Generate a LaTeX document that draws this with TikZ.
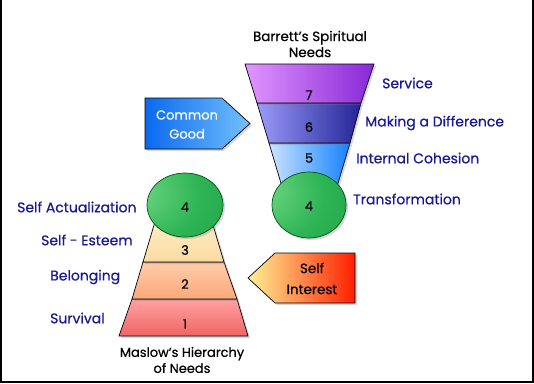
\documentclass[tikz,border=0pt]{standalone}
\usepackage{fontspec}
\setmainfont{Poppins}
\newfontfamily\medfont{Poppins}[FakeBold=0.5]
\usetikzlibrary{shadows}
\definecolor{lbl}{RGB}{25,25,150}
\definecolor{b7l}{RGB}{225,150,255}
\definecolor{b7r}{RGB}{135,40,215}
\definecolor{b6l}{RGB}{155,155,250}
\definecolor{b6r}{RGB}{35,35,150}
\definecolor{b5l}{RGB}{205,228,255}
\definecolor{b5r}{RGB}{20,130,255}
\definecolor{m3t}{RGB}{255,242,205}
\definecolor{m3b}{RGB}{250,218,160}
\definecolor{m2t}{RGB}{255,205,172}
\definecolor{m2b}{RGB}{250,168,120}
\definecolor{m1t}{RGB}{255,162,162}
\definecolor{m1b}{RGB}{240,100,100}
\definecolor{cgl}{RGB}{10,105,240}
\definecolor{cgr}{RGB}{115,192,252}
\definecolor{sil}{RGB}{255,242,150}
\definecolor{sir}{RGB}{255,30,0}
\definecolor{g1}{RGB}{120,220,135}
\definecolor{g2}{RGB}{45,180,85}
\definecolor{g3}{RGB}{20,150,60}
\definecolor{gdark}{RGB}{0,80,25}
\pgfdeclareradialshading{greenball}{\pgfpoint{-38bp}{12bp}}{color(0bp)=(g1); color(35bp)=(g2); color(80bp)=(g3); color(100bp)=(g3)}
\begin{document}
\begin{tikzpicture}[x=1pt,y=-1pt,
  lab/.style={text=lbl, font=\medfont\fontsize{14}{16}\selectfont, anchor=west, inner sep=0},
  num/.style={font=\medfont\fontsize{13}{15}\selectfont, inner sep=0},
  ttl/.style={font=\medfont\fontsize{13.5}{16}\selectfont, align=center, inner sep=0},
  shad/.style={drop shadow={opacity=0.3, shadow xshift=2pt, shadow yshift=-2pt}},
  edge/.style={draw=black, line width=0.7pt},
  ball/.style={draw=gdark, line width=0.7pt, shading=greenball}]
\useasboundingbox (0,0) rectangle (534,383);
\fill[white] (0,0) rectangle (534,383);
\draw[line width=2pt] (1,0) -- (1,382) -- (533,382) -- (533,0);

% Barrett funnel
\path[shad, edge, left color=b5l, right color=b5r] (269,143) -- (350,143) -- (336,190) -- (283,190) -- cycle;
\path[shad, edge, left color=b6l, right color=b6r] (257,103) -- (361,103) -- (350,143) -- (269,143) -- cycle;
\path[shad, edge, left color=b7l, right color=b7r] (245,64) -- (374,64) -- (361,103) -- (257,103) -- cycle;
\path[shad, ball] (309,205) ellipse [x radius=37, y radius=33];
\node[num] (b7) at (309,95) {7};
\node[num] (b6) at (309,127) {6};
\node[num] (b5) at (309,158) {5};
\node[num] (b4) at (309,206) {4};
\node[ttl] (btitle) at (310,44) {Barrett’s Spiritual\\Needs};
\node[lab] (service) at (382,83) {Service};
\node[lab] (diff) at (365,123) {Making a Difference};
\node[lab] (cohesion) at (356,158) {Internal Cohesion};
\node[lab] (transf) at (353,199) {Transformation};

% Maslow pyramid
\path[shad, edge, top color=m1t, bottom color=m1b] (132,299) -- (237,299) -- (248,336) -- (119,336) -- cycle;
\path[shad, edge, top color=m2t, bottom color=m2b] (143,262) -- (224,262) -- (237,299) -- (132,299) -- cycle;
\path[shad, edge, top color=m3t, bottom color=m3b] (157,215) -- (210,215) -- (224,262) -- (143,262) -- cycle;
\path[shad, ball] (185,205) ellipse [x radius=38, y radius=32];
\node[num] (m4) at (185,207) {4};
\node[num] (m3) at (185,250) {3};
\node[num] (m2) at (185,284) {2};
\node[num] (m1) at (185,324) {1};
\node[ttl, font=\medfont\fontsize{13}{16}\selectfont] (mtitle) at (182,360) {Maslow’s Hierarchy\\of Needs};
\node[lab] (selfact) at (17,207) {Self Actualization};
\node[lab] (esteem) at (41,240) {Self - Esteem};
\node[lab] (belong) at (50,277) {Belonging};
\node[lab] (surv) at (50,318) {Survival};

% Common Good
\path[shad, edge, left color=cgl, right color=cgr] (145,98) -- (222,98) -- (250,123.5) -- (222,149) -- (145,149) -- cycle;
\node[font=\medfont\fontsize{13}{19}\selectfont, text=white, align=center, inner sep=0] (cg) at (187,124.5) {Common\\Good};

% Self Interest
\path[shad, edge, left color=sil, right color=sir] (248,278) -- (275,253) -- (355,253) -- (355,303) -- (275,303) -- cycle;
\node[font=\medfont\fontsize{13.5}{21}\selectfont, align=center, inner sep=0] (si) at (312,278.5) {Self\\Interest};
\end{tikzpicture}
\end{document}
